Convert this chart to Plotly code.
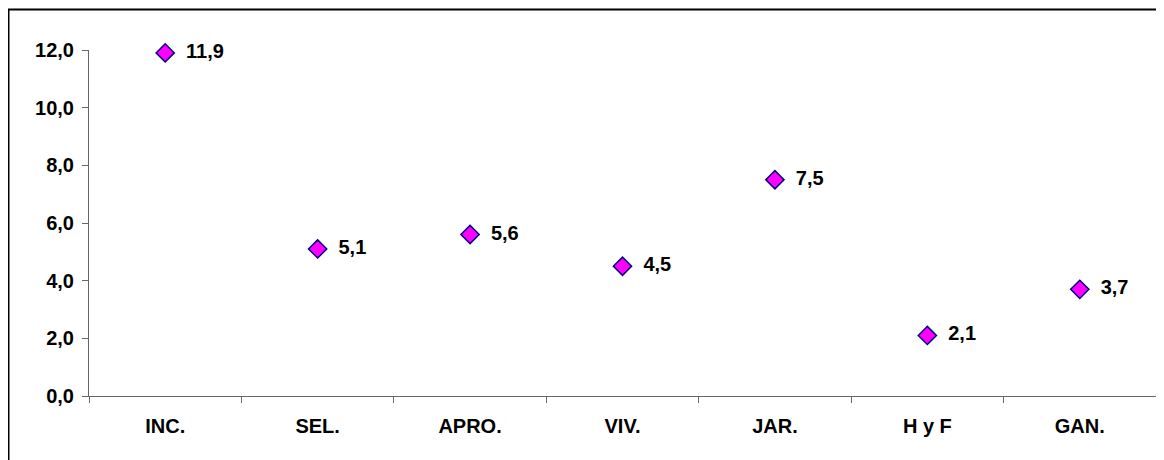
import plotly.graph_objects as go

categories = ["INC.", "SEL.", "APRO.", "VIV.", "JAR.", "H y F", "GAN."]
values = [11.9, 5.1, 5.6, 4.5, 7.5, 2.1, 3.7]
labels = [("%.1f" % v).replace(".", ",") for v in values]

# figure is placed at (8, 8) inside the page by the default body margin
W, H = 1156, 452
L, R, T, B = 81, 8, 42, 64
pw = W - L - R
ph = H - T - B
FONT = "Liberation Sans, Arial"
FS = 20


def px_x(p):
    return (p - L) / pw


def px_y(p):
    return (H - B - p) / ph


fig = go.Figure()
fig.add_trace(go.Scatter(
    x=categories, y=values, mode="markers+text",
    text=["  <b>" + t + "</b>" for t in labels], textposition="middle right",
    textfont=dict(family=FONT, size=FS, color="black"),
    marker=dict(symbol="diamond", size=14, color="#FF00FF",
                line=dict(color="#000080", width=1.5)),
    cliponaxis=False, showlegend=False,
))

fig.add_shape(type="line", xref="paper", yref="paper",
              x0=px_x(0), x1=px_x(W), y0=px_y(1.5), y1=px_y(1.5),
              line=dict(color="black", width=2))
fig.add_shape(type="line", xref="paper", yref="paper",
              x0=px_x(0.5), x1=px_x(0.5), y0=px_y(1.5), y1=px_y(H),
              line=dict(color="black", width=2))

fig.update_layout(
    width=W, height=H,
    margin=dict(l=L, r=R, t=T, b=B),
    paper_bgcolor="white", plot_bgcolor="white",
    separators=",.",
    font=dict(family=FONT, size=FS, color="black"),
    xaxis=dict(
        type="category", showgrid=False, showline=True, linecolor="#666666",
        linewidth=1, ticks="outside", tickson="boundaries", ticklen=6,
        tickcolor="#666666", tickfont=dict(size=FS, family=FONT),
        tickprefix="<b>", ticksuffix="</b>", ticklabelstandoff=12,
        zeroline=False, range=[-0.5, 6.5],
    ),
    yaxis=dict(
        range=[0, 12], dtick=2, tickformat=".1f", showgrid=False,
        showline=True, linecolor="#666666", linewidth=1, ticks="outside",
        ticklen=6, tickcolor="#666666", zeroline=False,
        tickprefix="<b>", ticksuffix="</b>", ticklabelstandoff=4,
        tickfont=dict(size=FS, family=FONT),
    ),
)
fig.write_html("out.html")
